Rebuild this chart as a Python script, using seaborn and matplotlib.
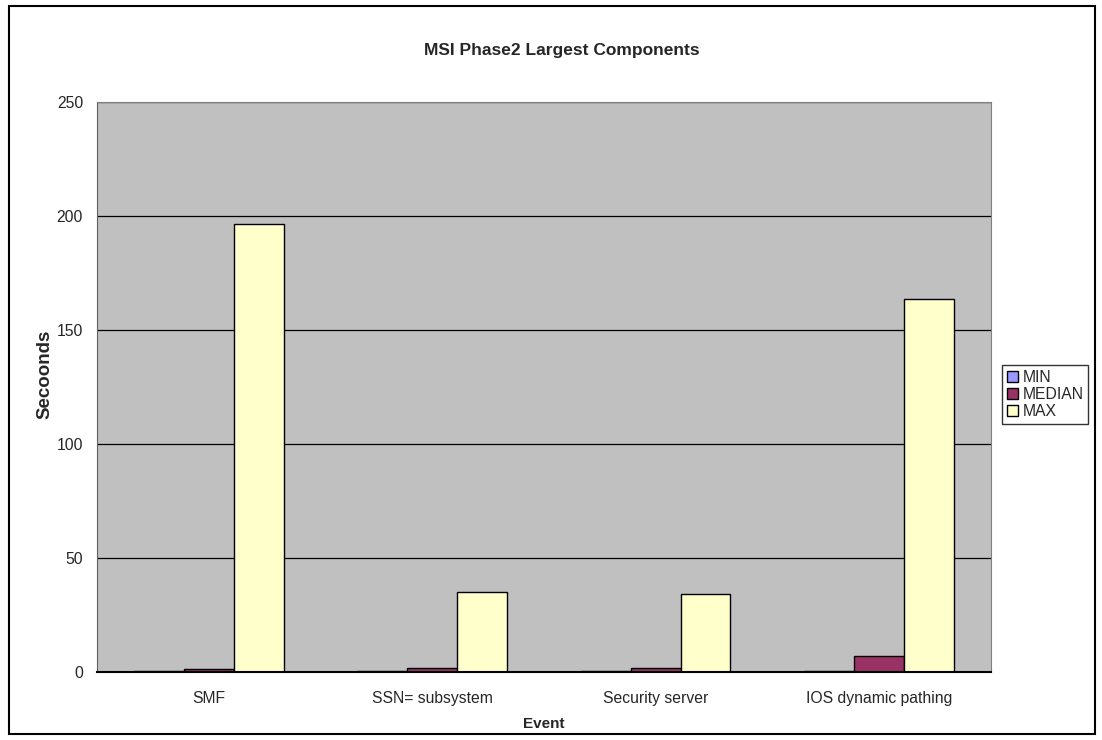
# MSI Phase2 largest components - min / median / max per event

import pandas as pd
import matplotlib
matplotlib.use("Agg")
import matplotlib.pyplot as plt
import seaborn as sns
from matplotlib.patches import Rectangle

events = ["SMF", "SSN= subsystem", "Security server", "IOS dynamic pathing"]
min_vals = [0.2, 0.4, 0.5, 0.2]
median_vals = [1.5, 1.7, 1.9, 6.8]
max_vals = [196.7, 35.2, 34.0, 163.6]

df = pd.DataFrame({"Event": events, "MIN": min_vals, "MEDIAN": median_vals, "MAX": max_vals})
df_long = df.melt(id_vars="Event", var_name="Stat", value_name="Seconds")

sns.set_style("white")
plt.rcParams["font.family"] = ["Liberation Sans", "DejaVu Sans"]

fig = plt.figure(figsize=(11.02, 7.4), dpi=100)
ax = fig.add_axes([0.088, 0.092, 0.811, 0.770])
ax.set_facecolor("#C0C0C0")

sns.barplot(data=df_long, x="Event", y="Seconds", hue="Stat", ax=ax,
            palette=["#9999FF", "#993366", "#FFFFCC"], width=0.67,
            edgecolor="black", linewidth=1, saturation=1, errorbar=None)

ax.set_ylim(0, 250)
ax.set_xlim(-0.5, 3.5)
ax.set_yticks(range(0, 251, 50))
ax.yaxis.grid(True, color="black", linewidth=0.9)
ax.set_axisbelow(True)

ax.tick_params(axis="x", length=0, labelsize=11.3, pad=14)
ax.set_xticks([-0.5, 0.5, 1.5, 2.5, 3.5], minor=True)
ax.tick_params(axis="x", which="minor", length=5, color="#404040", direction="out")
ax.tick_params(axis="y", length=6, color="#404040", direction="out", labelsize=11.3, pad=4)

for side in ["top", "right"]:
    ax.spines[side].set_color("#808080")
ax.spines["left"].set_color("#606060")
ax.spines["bottom"].set_color("black")
ax.spines["bottom"].set_linewidth(1.5)

ax.set_xlabel("Event", fontsize=11, fontweight="bold", labelpad=8)
ax.set_ylabel("Secoonds", fontsize=13.5, fontweight="bold")
ax.yaxis.set_label_coords(-0.049, 0.523)
fig.suptitle("MSI Phase2 Largest Components", fontsize=12.5, fontweight="bold", x=0.510, y=0.942)

leg = ax.legend(loc="center left", bbox_to_anchor=(1.013, 0.487), frameon=True,
                fontsize=11.3, handlelength=0.7, handleheight=0.7, handletextpad=0.3,
                borderpad=0.3, labelspacing=0.15, fancybox=False, borderaxespad=0)
leg.get_frame().set_edgecolor("black")
leg.get_frame().set_linewidth(1)

fig.patches.append(Rectangle((0.008, 0.008), 0.986, 0.984, transform=fig.transFigure,
                             fill=False, edgecolor="black", linewidth=1.5))

fig.savefig("out.png", dpi=100)
